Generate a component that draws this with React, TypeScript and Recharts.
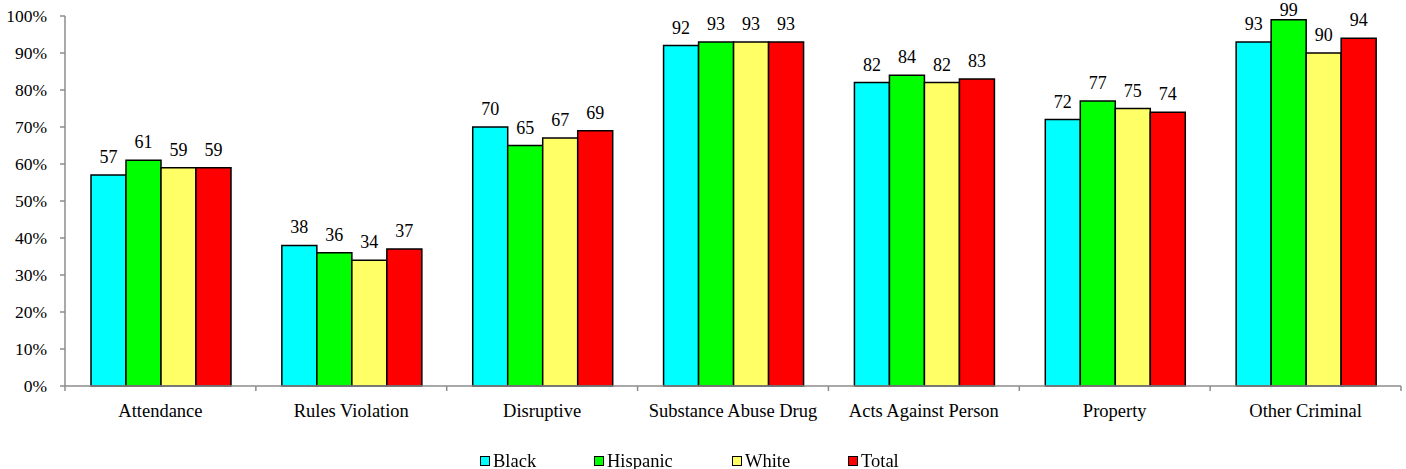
import React from 'react';
import { BarChart, Bar, XAxis, YAxis, LabelList } from 'recharts';

// Categories and series values (percent)
const categories = [
  'Attendance',
  'Rules Violation',
  'Disruptive',
  'Substance Abuse Drug',
  'Acts Against Person',
  'Property',
  'Other Criminal',
];
const black = [57, 38, 70, 92, 82, 72, 93];
const hispanic = [61, 36, 65, 93, 84, 77, 99];
const white = [59, 34, 67, 93, 82, 75, 90];
const total = [59, 37, 69, 93, 83, 74, 94];
const yTicks = [0, 10, 20, 30, 40, 50, 60, 70, 80, 90, 100];

const SERIES = [
  { key: 'black', name: 'Black', color: '#00FFFF' },
  { key: 'hispanic', name: 'Hispanic', color: '#00FF00' },
  { key: 'white', name: 'White', color: '#FFFF66' },
  { key: 'total', name: 'Total', color: '#FF0000' },
];

const data = categories.map((name, i) => ({
  name,
  black: black[i],
  hispanic: hispanic[i],
  white: white[i],
  total: total[i],
}));

const FONT = "'Liberation Serif', 'Times New Roman', Times, serif";
const AXIS = '#8c8c8c';
const TICK_SIZE = 5;
const TICK_MARGIN = 13;

// legend item left edges
const legendX = [480, 594, 732, 848];

// category label + tick marks on the category boundaries (Excel style)
const CategoryTick = (props: any) => {
  const { x, y, payload } = props;
  const half = payload.offset || 0;
  const axisY = y - TICK_SIZE - TICK_MARGIN;
  const isLast = payload.index === categories.length - 1;
  return (
    <g>
      <line x1={x - half} x2={x - half} y1={axisY} y2={axisY + TICK_SIZE} stroke={AXIS} strokeWidth={1.5} />
      {isLast && (
        <line x1={x + half} x2={x + half} y1={axisY} y2={axisY + TICK_SIZE} stroke={AXIS} strokeWidth={1.5} />
      )}
      <text x={x} y={y} dy="0.71em" textAnchor="middle" fill="#000" fontSize={18.5} fontFamily={FONT}>
        {payload.value}
      </text>
    </g>
  );
};

// value label above the bar, kept inside the chart at the top edge
const ValueLabel = (props: any) => {
  const { x, y, width, value } = props;
  const baseline = Math.max(y - 12, 16);
  return (
    <text x={x + width / 2} y={baseline} textAnchor="middle" fill="#000" fontSize={18} fontFamily={FONT}>
      {value}
    </text>
  );
};

export default function App() {
  return (
    <div style={{ position: 'fixed', left: 0, top: 0, width: 1406, height: 469, background: '#fff', fontFamily: FONT }}>
      <BarChart
        width={1406}
        height={469}
        data={data}
        margin={{ top: 16, right: 5, left: 0, bottom: 53 }}
        barCategoryGap={26}
        barGap={0}
        style={{ fontFamily: FONT }}
      >
        <XAxis
          dataKey="name"
          stroke={AXIS}
          strokeWidth={1.5}
          tickLine={false}
          tickSize={TICK_SIZE}
          tickMargin={TICK_MARGIN}
          height={30}
          interval={0}
          tick={<CategoryTick />}
        />
        <YAxis
          domain={[0, 100]}
          ticks={yTicks}
          width={65}
          stroke={AXIS}
          strokeWidth={1.5}
          tickSize={5}
          tickMargin={13}
          interval={0}
          tickFormatter={(v) => `${v}%`}
          tick={{ fill: '#000', fontSize: 17.5, fontFamily: FONT }}
        />
        {SERIES.map((s) => (
          <Bar
            key={s.key}
            dataKey={s.key}
            name={s.name}
            fill={s.color}
            stroke="#000"
            strokeWidth={1.5}
            isAnimationActive={false}
          >
            <LabelList dataKey={s.key} content={<ValueLabel />} />
          </Bar>
        ))}
      </BarChart>
      {SERIES.map((s, i) => (
        <div
          key={s.key}
          style={{
            position: 'absolute',
            left: legendX[i],
            top: 451,
            display: 'flex',
            alignItems: 'center',
            fontSize: 18.5,
            lineHeight: '20px',
            color: '#000',
          }}
        >
          <span
            style={{
              display: 'inline-block',
              width: 8,
              height: 8,
              background: s.color,
              border: '1.5px solid #000',
              marginRight: 3,
            }}
          />
          {s.name}
        </div>
      ))}
    </div>
  );
}
